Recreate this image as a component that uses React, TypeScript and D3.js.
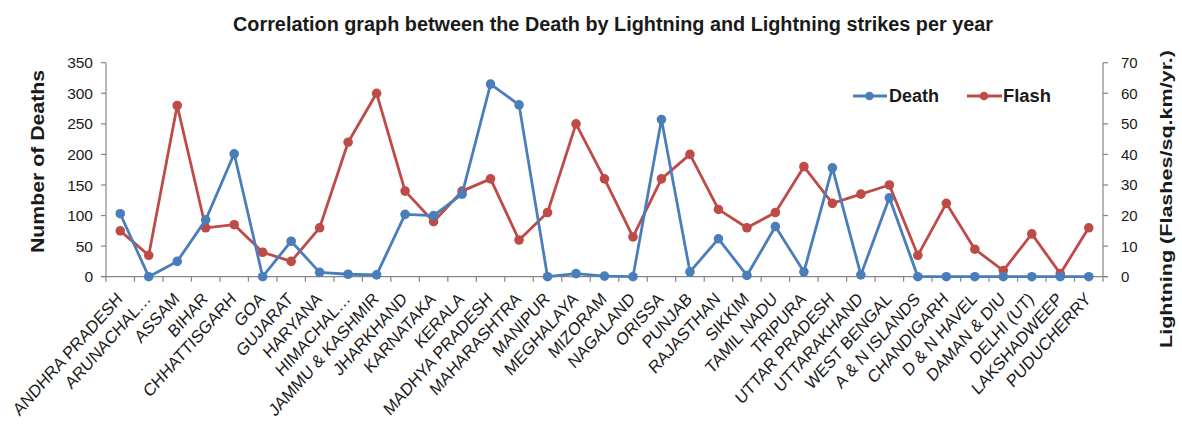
import React from "react";
import * as d3 from "d3";

const categories = [
  "ANDHRA PRADESH", "ARUNACHAL…", "ASSAM", "BIHAR", "CHHATTISGARH", "GOA", "GUJARAT",
  "HARYANA", "HIMACHAL…", "JAMMU & KASHMIR", "JHARKHAND", "KARNATAKA", "KERALA",
  "MADHYA PRADESH", "MAHARASHTRA", "MANIPUR", "MEGHALAYA", "MIZORAM", "NAGALAND",
  "ORISSA", "PUNJAB", "RAJASTHAN", "SIKKIM", "TAMIL NADU", "TRIPURA", "UTTAR PRADESH",
  "UTTARAKHAND", "WEST BENGAL", "A & N ISLANDS", "CHANDIGARH", "D & N HAVEL",
  "DAMAN & DIU", "DELHI (UT)", "LAKSHADWEEP", "PUDUCHERRY",
];

const deaths = [
  103, 0, 25, 93, 201, 0, 58, 7, 4, 3, 102, 100, 135, 315, 281, 0, 5, 1, 0,
  257, 8, 62, 2, 82, 8, 178, 3, 129, 0, 0, 0, 0, 0, 0, 0,
];

const flashes = [
  15, 7, 56, 16, 17, 8, 5, 16, 44, 60, 28, 18, 28, 32, 12, 21, 50, 32, 13,
  32, 40, 22, 16, 21, 36, 24, 27, 30, 7, 24, 9, 2, 14, 1, 16,
];

const leftTicks = [0, 50, 100, 150, 200, 250, 300, 350];
const rightTicks = [0, 10, 20, 30, 40, 50, 60, 70];

const W = 1182;
const H = 425;
const plotLeft = 106;
const plotRight = 1103;
const plotTop = 62.7;
const plotBottom = 276.7;

const BLUE = "#4A7EBB";
const RED = "#BE4B48";
const AXIS = "#868686";
const TEXT = "#1a1a1a";
const FONT = "'Liberation Sans', Arial, sans-serif";

export default function App() {
  const x = d3.scaleBand<string>().domain(categories).range([plotLeft, plotRight]);
  const yL = d3.scaleLinear().domain([0, 350]).range([plotBottom, plotTop]);
  const yR = d3.scaleLinear().domain([0, 70]).range([plotBottom, plotTop]);
  const cx = (c: string) => (x(c) as number) + x.bandwidth() / 2;

  const deathLine = d3.line<number>().x((_, i) => cx(categories[i])).y((d) => yL(d));
  const flashLine = d3.line<number>().x((_, i) => cx(categories[i])).y((d) => yR(d));

  const boundaries = d3.range(categories.length + 1).map((i) => plotLeft + i * x.step());

  return (
    <svg width={W} height={H} style={{ position: "absolute", left: 0, top: 0, background: "#fff" }} fontFamily={FONT}>
      <text
        x={613}
        y={31}
        textAnchor="middle"
        fontSize={20}
        fontWeight="bold"
        fill={TEXT}
        textLength={760}
        lengthAdjust="spacingAndGlyphs"
      >
        Correlation graph between the Death by Lightning and Lightning strikes per year
      </text>

      {/* left axis */}
      <line x1={plotLeft} x2={plotLeft} y1={plotTop} y2={plotBottom} stroke={AXIS} strokeWidth={1.2} />
      {leftTicks.map((t) => (
        <g key={"l" + t}>
          <line x1={plotLeft - 5} x2={plotLeft} y1={yL(t)} y2={yL(t)} stroke={AXIS} strokeWidth={1.2} />
          <text x={93} y={yL(t)} dy="0.36em" textAnchor="end" fontSize={15.5} fill={TEXT}>
            {t}
          </text>
        </g>
      ))}
      <text
        transform={`translate(43.5,161.5) rotate(-90)`}
        textAnchor="middle"
        fontSize={18.5}
        fontWeight="bold"
        fill={TEXT}
        textLength={183}
        lengthAdjust="spacingAndGlyphs"
      >
        Number of Deaths
      </text>

      {/* right axis */}
      <line x1={plotRight} x2={plotRight} y1={plotTop} y2={plotBottom} stroke={AXIS} strokeWidth={1.2} />
      {rightTicks.map((t) => (
        <g key={"r" + t}>
          <line x1={plotRight} x2={plotRight + 5} y1={yR(t)} y2={yR(t)} stroke={AXIS} strokeWidth={1.2} />
          <text x={1121} y={yR(t)} dy="0.36em" textAnchor="start" fontSize={15} fill={TEXT}>
            {t}
          </text>
        </g>
      ))}
      <text
        transform={`translate(1171.5,199) rotate(-90)`}
        textAnchor="middle"
        fontSize={17}
        fontWeight="bold"
        fill={TEXT}
        textLength={298}
        lengthAdjust="spacingAndGlyphs"
      >
        Lightning (Flashes/sq.km/yr.)
      </text>

      {/* x axis */}
      <line x1={plotLeft - 5} x2={plotRight + 5} y1={plotBottom} y2={plotBottom} stroke={AXIS} strokeWidth={1.3} />
      {boundaries.map((b, i) => (
        <line key={"b" + i} x1={b} x2={b} y1={plotBottom} y2={plotBottom + 5} stroke={AXIS} strokeWidth={1.2} />
      ))}
      {categories.map((c) => (
        <text
          key={"c" + c}
          transform={`translate(${cx(c) + 3},300) scale(0.89,1) rotate(-45)`}
          textAnchor="end"
          fontSize={17.8}
          fill={TEXT}
        >
          {c}
        </text>
      ))}

      {/* series */}
      <path d={flashLine(flashes) as string} fill="none" stroke={RED} strokeWidth={2.8} strokeLinejoin="round" />
      {flashes.map((v, i) => (
        <circle key={"f" + i} cx={cx(categories[i])} cy={yR(v)} r={4.8} fill={RED} />
      ))}
      <path d={deathLine(deaths) as string} fill="none" stroke={BLUE} strokeWidth={2.8} strokeLinejoin="round" />
      {deaths.map((v, i) => (
        <circle key={"d" + i} cx={cx(categories[i])} cy={yL(v)} r={4.8} fill={BLUE} />
      ))}

      {/* legend */}
      <g>
        <line x1={853} x2={887} y1={96} y2={96} stroke={BLUE} strokeWidth={2.8} />
        <circle cx={869.5} cy={96} r={4.3} fill={BLUE} />
        <text x={889} y={96} dy="0.36em" fontSize={17.5} fontWeight="bold" fill={TEXT} textLength={50} lengthAdjust="spacingAndGlyphs">Death</text>
        <line x1={967} x2={1002} y1={96} y2={96} stroke={RED} strokeWidth={2.8} />
        <circle cx={984} cy={96} r={4.3} fill={RED} />
        <text x={1003} y={96} dy="0.36em" fontSize={17.5} fontWeight="bold" fill={TEXT} textLength={48} lengthAdjust="spacingAndGlyphs">Flash</text>
      </g>
    </svg>
  );
}
